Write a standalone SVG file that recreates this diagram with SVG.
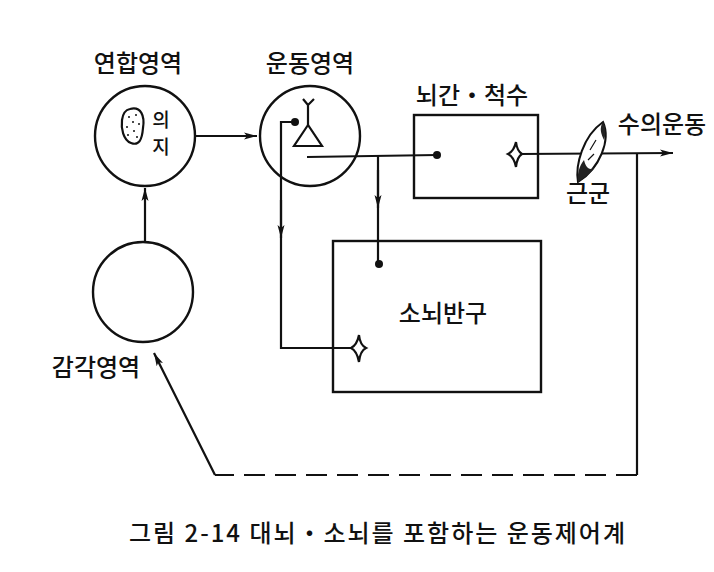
<svg xmlns="http://www.w3.org/2000/svg" width="714" height="572" viewBox="0 0 714 572">
<defs>
<style>
.ln{fill:none;stroke:#111;stroke-width:2.2}
.nd{fill:none;stroke:#111;stroke-width:2.4}
.tx{font-family:"Noto Sans CJK KR","Noto Sans",sans-serif;fill:#111;text-anchor:middle;font-weight:500}
.lb{font-size:24px}
.dot{fill:#111}
</style>
<marker id="ah" markerWidth="14" markerHeight="10" refX="13" refY="5" orient="auto" markerUnits="userSpaceOnUse">
<path d="M0,1.5 L13,5 L0,8.5 L3,5 Z" fill="#111"/>
</marker>
</defs>
<rect width="714" height="572" fill="#fff"/>

<g id="connectors">
<line class="ln" x1="195" y1="136" x2="257" y2="136" marker-end="url(#ah)"/>
<line class="ln" x1="145" y1="242" x2="145" y2="188" marker-end="url(#ah)"/>
<polyline class="ln" points="295,122 281,122 281,348 353,348"/>
<line class="ln" x1="281" y1="200" x2="281" y2="238" marker-end="url(#ah)"/>
<polyline class="ln" points="307,157 437,155"/>
<polyline class="ln" points="378,156 378,264"/>
<line class="ln" x1="378" y1="170" x2="378" y2="208" marker-end="url(#ah)"/>
<line class="ln" x1="520" y1="154" x2="673" y2="153" marker-end="url(#ah)"/>
<line class="ln" x1="637" y1="153" x2="637" y2="475"/>
<line class="ln" x1="637" y1="475" x2="215" y2="475" stroke-dasharray="21,10"/>
<line class="ln" x1="215" y1="475" x2="154" y2="353" marker-end="url(#ah)"/>
</g>

<g id="association-area">
<circle class="nd" cx="145" cy="136" r="50"/>
<path d="M130,109 C141,106 145,116 143,128 C142,140 139,146 131,143 C123,140 121,128 122,120 C123,113 125,110 130,109 Z" fill="#fff" stroke="#111" stroke-width="2.2"/>
<g class="dot">
<circle cx="129" cy="117" r="1"/><circle cx="136" cy="115" r="1"/><circle cx="133" cy="122" r="1"/><circle cx="139" cy="124" r="1"/><circle cx="127" cy="127" r="1"/><circle cx="134" cy="131" r="1"/><circle cx="128" cy="135" r="1"/><circle cx="137" cy="137" r="1"/>
</g>
<text class="tx" x="161" y="127" font-size="19">의</text>
<text class="tx" x="161" y="154" font-size="19">지</text>
<text class="tx lb" x="138" y="72">연합영역</text>
</g>

<g id="motor-area">
<circle class="nd" cx="310" cy="136" r="50"/>
<path class="ln" d="M308,125 L294,146 L322,146 Z"/>
<path class="ln" d="M308,125 L308,105 M308,105 L303,99 M308,105 L314,99"/>
<circle class="dot" cx="295" cy="122" r="4"/>
<text class="tx lb" x="310" y="72">운동영역</text>
</g>

<g id="brainstem">
<rect class="nd" x="414" y="115" width="124" height="83"/>
<circle class="dot" cx="437" cy="155" r="4"/>
<path d="M516,142 Q517,151 522,154 Q517,157 516,167 Q514,157 508,154 Q514,151 516,142 Z" fill="#fff" stroke="#111" stroke-width="2.2"/>
<text class="tx lb" x="472" y="104">뇌간・척수</text>
</g>

<g id="cerebellum">
<rect class="nd" x="333" y="241" width="208" height="151"/>
<circle class="dot" cx="379" cy="264" r="4"/>
<path d="M359,335 Q360,345 366,348 Q360,351 359,362 Q357,351 351,348 Q357,345 359,335 Z" fill="#fff" stroke="#111" stroke-width="2.2"/>
<text class="tx lb" x="443" y="322">소뇌반구</text>
</g>

<g id="sensory-area">
<circle class="nd" cx="143" cy="292" r="50"/>
<text class="tx lb" x="96" y="376">감각영역</text>
</g>

<g id="muscle">
<path d="M603,122 C611,140 600,168 578,182 C575,165 583,136 603,122 Z" fill="#fff" stroke="#111" stroke-width="2"/>
<path d="M584,160 C586,168 590,172 596,166 C590,174 584,178 578,182 C577,175 579,166 584,160 Z" fill="#222"/>
<path d="M603,122 C606,128 606,134 604,140 C601,134 599,128 603,122 Z" fill="#222"/>
<path d="M590,150 L596,140 M588,160 L594,154" stroke="#111" stroke-width="1.2" fill="none"/>
<text class="tx lb" x="588" y="202">근군</text>
<text class="tx lb" x="662" y="133">수의운동</text>
</g>

<text class="tx" x="377" y="542" font-size="24" textLength="496" lengthAdjust="spacing">그림 2-14 대뇌・소뇌를 포함하는 운동제어계</text>
</svg>
